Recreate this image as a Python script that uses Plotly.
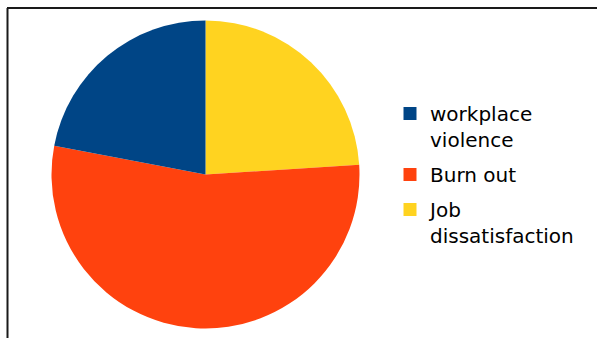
import plotly.graph_objects as go

# Share of responses per cause
labels = ["workplace<br>violence", "Burn out", "Job<br>dissatisfaction"]
values = [22, 54, 24]
colors = ["#004586", "#ff420e", "#ffd320"]

W, H = 597, 338

fig = go.Figure()

# Slices run counter-clockwise from 12 o'clock in list order; drawn clockwise
# here from the reversed lists so the first category sits left of the top.
fig.add_trace(
    go.Pie(
        labels=labels[::-1],
        values=values[::-1],
        marker=dict(colors=colors[::-1], line=dict(width=0)),
        textinfo="none",
        hoverinfo="label+percent",
        sort=False,
        direction="clockwise",
        rotation=0,
        showlegend=False,
        domain=dict(x=[51.5 / W, 359.5 / W], y=[9.5 / H, 317.5 / H]),
    )
)

# Legend entries, one group each so the gap between entries can be set
for i, (lab, col) in enumerate(zip(labels, colors)):
    fig.add_trace(
        go.Scatter(
            x=[None], y=[None], mode="markers", name=lab,
            marker=dict(symbol="square", size=13, color=col, line=dict(width=0)),
            legendgroup=f"g{i}", showlegend=True, hoverinfo="skip",
        )
    )

# Frame lines along the top and left edge
fig.add_shape(type="line", xref="paper", yref="paper",
              x0=7 / W, x1=1.02, y0=1 - 8 / H, y1=1 - 8 / H,
              line=dict(color="#1a1a1a", width=2))
fig.add_shape(type="line", xref="paper", yref="paper",
              x0=7.5 / W, x1=7.5 / W, y0=1 - 8 / H, y1=-0.02,
              line=dict(color="#1a1a1a", width=2))

fig.update_layout(
    width=W,
    height=H,
    margin=dict(l=0, r=0, t=0, b=0),
    paper_bgcolor="white",
    plot_bgcolor="white",
    font=dict(family="DejaVu Sans, sans-serif", size=20, color="#000000"),
    xaxis=dict(visible=False),
    yaxis=dict(visible=False),
    showlegend=True,
    legend=dict(
        x=390 / W,
        xanchor="left",
        y=1 - 94 / H,
        yanchor="top",
        valign="top",
        tracegroupgap=6,
        bgcolor="rgba(0,0,0,0)",
        font=dict(size=20),
    ),
)

fig.write_html("out.html")
